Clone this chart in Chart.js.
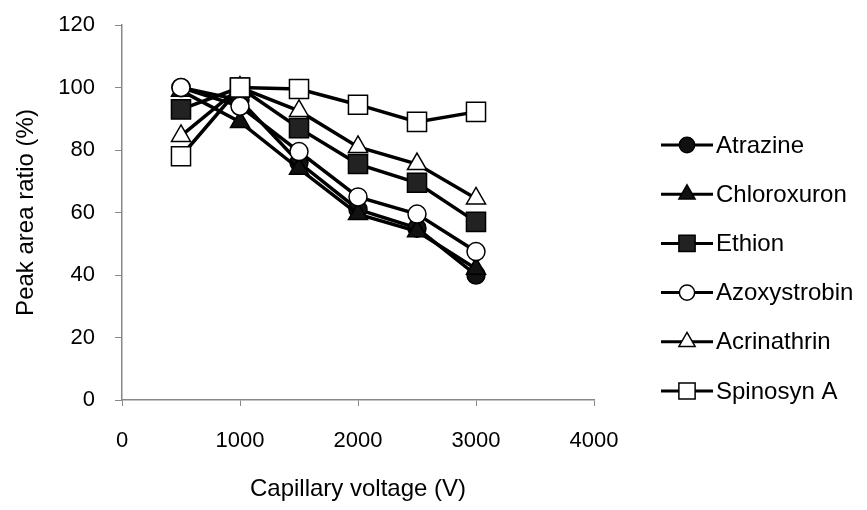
<!DOCTYPE html>
<html>
<head>
<meta charset="utf-8">
<script src="https://cdn.jsdelivr.net/npm/chart.js@4.4.1/dist/chart.umd.min.js"></script>
<style>
  html, body { margin: 0; padding: 0; background: #fff; }
  #wrap { width: 867px; height: 510px; position: relative; }
</style>
</head>
<body>
<div id="wrap"><canvas id="c" width="867" height="510"></canvas></div>
<script>
const voltages = [500, 1000, 1500, 2000, 2500, 3000];
const seriesNames = ["Atrazine", "Chloroxuron", "Ethion", "Azoxystrobin", "Acrinathrin", "Spinosyn A"];
const atrazine     = [100, 96, 76, 61, 55, 40];
const chloroxuron  = [99, 89, 74, 59.5, 54, 42];
const ethion       = [93, 100, 87, 75.5, 69.5, 57];
const azoxystrobin = [100, 94, 79.5, 65, 59.5, 47.5];
const acrinathrin  = [84.5, 100, 92.5, 81, 75.5, 64.5];
const spinosynA    = [78, 100, 99.5, 94.5, 89, 92.2];
const yTicks = [0, 20, 40, 60, 80, 100, 120];
const xTicks = [0, 1000, 2000, 3000, 4000];

const seriesValues = [atrazine, chloroxuron, ethion, azoxystrobin, acrinathrin, spinosynA];
const styles = [
  { shape: 'circle',   fill: '#111', r: 9 },
  { shape: 'triangle', fill: '#111', r: 11 },
  { shape: 'rect',     fill: '#222', r: 13.5 },
  { shape: 'circle',   fill: '#fff', r: 9 },
  { shape: 'triangle', fill: '#fff', r: 11 },
  { shape: 'rect',     fill: '#fff', r: 13.5 }
];

const FONT = '"Liberation Sans", Arial, sans-serif';

const datasets = seriesNames.map((name, i) => ({
  label: name,
  data: voltages.map((v, j) => ({ x: v, y: seriesValues[i][j] })),
  borderColor: '#000',
  borderWidth: 3.5,
  tension: 0,
  pointStyle: styles[i].shape,
  pointRadius: styles[i].r,
  pointHoverRadius: styles[i].r,
  pointBackgroundColor: styles[i].fill,
  pointBorderColor: '#000',
  pointBorderWidth: 1.5,
  order: seriesNames.length - i
}));

const legendPlugin = {
  id: 'sideLegend',
  afterDraw(chart) {
    const ctx = chart.ctx;
    const x0 = 661, x1 = 713, xm = 687, xt = 716;
    const y0 = 145, dy = 49.2;
    ctx.save();
    seriesNames.forEach((name, i) => {
      const y = y0 + i * dy;
      ctx.strokeStyle = '#000';
      ctx.lineWidth = 3;
      ctx.beginPath();
      ctx.moveTo(x0, y);
      ctx.lineTo(x1, y);
      ctx.stroke();
      ctx.fillStyle = styles[i].fill;
      ctx.strokeStyle = '#000';
      ctx.lineWidth = 1.5;
      Chart.helpers.drawPoint(ctx, {
        pointStyle: styles[i].shape,
        radius: styles[i].r * 0.85,
        borderWidth: 1.5,
        rotation: 0
      }, xm, y);
      ctx.fillStyle = '#000';
      ctx.font = '24px ' + FONT;
      ctx.textBaseline = 'middle';
      ctx.textAlign = 'left';
      ctx.fillText(name, xt, y + 1);
    });
    ctx.restore();
  }
};

new Chart(document.getElementById('c'), {
  type: 'line',
  data: { datasets },
  options: {
    responsive: false,
    animation: false,
    events: [],
    layout: { padding: { left: 0, top: 25, right: 273, bottom: 0 } },
    plugins: { legend: { display: false }, tooltip: { enabled: false } },
    scales: {
      x: {
        type: 'linear',
        min: 0, max: 4000,
        afterBuildTicks: (s) => { s.ticks = xTicks.map(v => ({ value: v })); },
        afterFit: (s) => { s.height = 110; s.paddingLeft = 0; s.paddingRight = 0; },
        border: { color: '#888', width: 1.5 },
        grid: { drawOnChartArea: false, drawTicks: true, tickLength: 6, color: '#888', lineWidth: 1 },
        ticks: { color: '#000', font: { family: FONT, size: 22 }, padding: 22, maxRotation: 0,
                 callback: (v) => String(v) },
        title: { display: true, text: 'Capillary voltage (V)', color: '#000', font: { family: FONT, size: 24 }, padding: { top: 0, bottom: 6 } }
      },
      y: {
        type: 'linear',
        min: 0, max: 120,
        afterBuildTicks: (s) => { s.ticks = yTicks.map(v => ({ value: v })); },
        afterFit: (s) => { s.width = 122; s.paddingTop = 0; s.paddingBottom = 0; },
        border: { color: '#888', width: 1.5 },
        grid: { drawOnChartArea: false, drawTicks: true, tickLength: 7, color: '#888', lineWidth: 1 },
        ticks: { color: '#000', font: { family: FONT, size: 22 }, padding: 20, callback: (v) => String(v) },
        title: { display: true, text: 'Peak area ratio (%)', color: '#000', font: { family: FONT, size: 24 }, padding: { top: 12, bottom: 0 } }
      }
    }
  },
  plugins: [legendPlugin]
});
</script>
</body>
</html>
